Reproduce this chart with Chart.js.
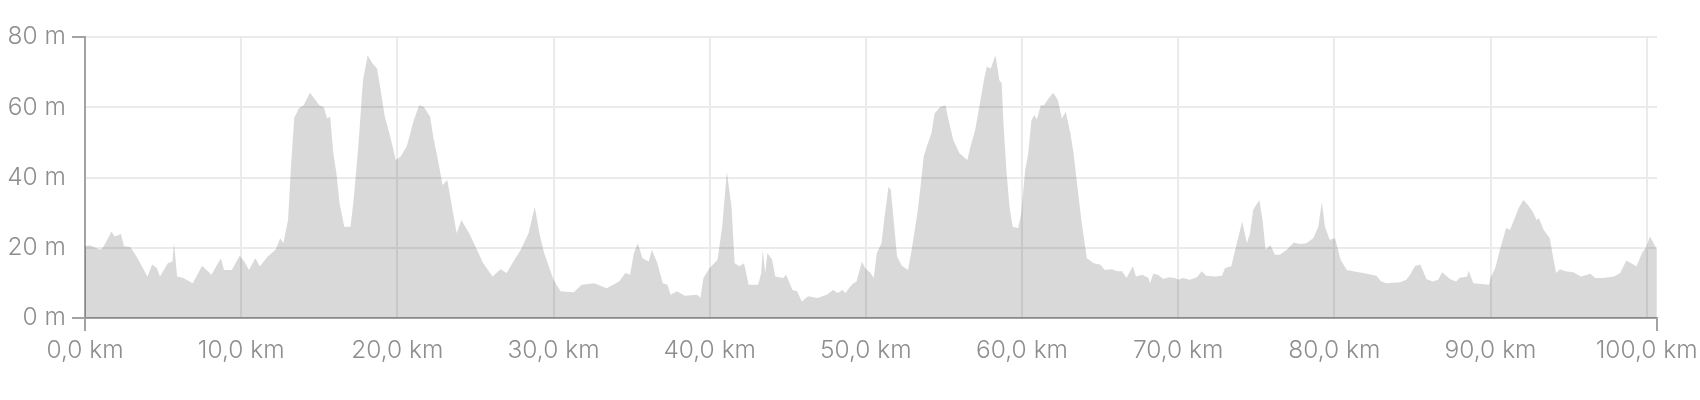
<!DOCTYPE html>
<html lang="en">
<head>
    <meta charset="UTF-8">
    <title>Elevation profile</title>
    <script src="https://cdn.jsdelivr.net/npm/chart.js"></script>
    <style>
        body { margin: 0; background: #fff; }
    </style>
</head>
<body>
    <canvas id="profileChart" width="1700" height="400"></canvas>
    <script>
        // distance along the route (km) and elevation (m)
        const distKm = [
            0, 0.3, 1.0, 1.2, 1.7, 1.9, 2.3, 2.5, 2.9, 3.3, 4.0, 4.3, 4.6, 4.8, 5.3, 5.6, 5.7, 5.9, 6.3, 6.9,
            7.5, 8.1, 8.4, 8.7, 8.9, 9.4, 9.9, 10.2, 10.5, 10.9, 11.2, 11.7, 12.2, 12.5, 12.7, 13.0, 13.2, 13.4, 13.7, 14.0,
            14.4, 14.6, 15.0, 15.3, 15.5, 15.7, 15.9, 16.1, 16.3, 16.6, 17.0, 17.2, 17.5, 17.8, 18.1, 18.4, 18.7, 18.9, 19.2, 19.55,
            19.9, 20.2, 20.6, 21.05, 21.4, 21.7, 22.1, 22.3, 22.6, 22.9, 23.2, 23.5, 23.8, 24.1, 24.6, 25.1, 25.5, 26.1, 26.6, 27.0,
            27.5, 27.9, 28.4, 28.8, 29.1, 29.4, 29.7, 30.0, 30.45, 31.3, 31.8, 32.6, 33.4, 34.2, 34.6, 34.9, 35.15, 35.4, 35.7, 36.1,
            36.3, 36.65, 37.0, 37.3, 37.5, 37.9, 38.4, 39.2, 39.4, 39.6, 40.0, 40.5, 40.8, 41.1, 41.4, 41.6, 41.9, 42.2, 42.5, 43.1,
            43.3, 43.4, 43.55, 43.7, 44.0, 44.2, 44.7, 44.9, 45.3, 45.6, 45.9, 46.3, 46.9, 47.5, 47.9, 48.2, 48.5, 48.7, 49.0, 49.2,
            49.4, 49.6, 49.75, 49.95, 50.3, 50.5, 50.7, 51.0, 51.2, 51.45, 51.6, 51.8, 52.0, 52.3, 52.7, 52.9, 53.3, 53.5, 53.7, 53.9,
            54.2, 54.4, 54.75, 55.1, 55.3, 55.6, 56.0, 56.5, 56.7, 57.0, 57.3, 57.6, 57.75, 58.0, 58.3, 58.55, 58.7, 58.8, 59.0, 59.2,
            59.4, 59.75, 59.95, 60.2, 60.4, 60.6, 60.8, 60.95, 61.2, 61.4, 61.7, 62.0, 62.3, 62.55, 62.8, 63.1, 63.3, 63.55, 63.8, 64.15,
            64.6, 65.0, 65.3, 65.75, 66.1, 66.4, 66.7, 66.8, 67.1, 67.3, 67.7, 68.1, 68.2, 68.4, 68.7, 69.05, 69.4, 69.8, 70.0, 70.3,
            70.75, 71.2, 71.5, 71.8, 72.35, 72.8, 73.0, 73.4, 73.6, 74.1, 74.4, 74.6, 74.8, 75.2, 75.4, 75.6, 75.9, 76.2, 76.5, 76.95,
            77.4, 77.8, 78.2, 78.65, 78.97, 79.2, 79.4, 79.7, 80.05, 80.4, 80.8, 81.2, 81.85, 82.7, 83.0, 83.35, 84.2, 84.6, 84.85, 85.15,
            85.5, 85.9, 86.3, 86.65, 86.9, 87.4, 87.8, 88.0, 88.5, 88.6, 88.9, 89.4, 89.9, 90.0, 90.3, 90.6, 91.0, 91.25, 91.5, 91.8,
            92.1, 92.4, 92.7, 92.95, 93.1, 93.4, 93.8, 94.0, 94.2, 94.45, 94.8, 95.3, 95.8, 96.4, 96.7, 97.2, 97.9, 98.3, 98.7, 99.0,
            99.35, 99.7, 100.0, 100.2, 100.45, 100.65
        ];
        const elevM = [
            20.4, 20.7, 19.4, 20.4, 24.6, 23.2, 23.9, 20.4, 20.2, 17.5, 11.8, 15.2, 14.2, 11.8, 15.6, 16.1, 21.5, 11.8, 11.4, 9.9,
            14.9, 12.3, 14.7, 17.0, 13.7, 13.7, 17.7, 16.1, 13.7, 17.0, 14.7, 17.5, 19.4, 22.7, 21.3, 27.9, 44, 57, 59.7, 60.6,
            64.1, 63, 60.6, 60, 56.8, 57.3, 46.9, 41.2, 32.7, 26, 26, 33.6, 48.8, 67.7, 74.8, 72.5, 71, 65.8, 57.3, 51.6,
            45, 45.9, 48.8, 56.3, 60.6, 60.1, 57.3, 51.6, 45, 37.9, 39.3, 31.7, 24.1, 27.9, 24.1, 19.4, 15.6, 11.8, 13.9, 12.8,
            16.6, 19.4, 24.1, 31.7, 24.1, 18.5, 14.7, 10.9, 7.6, 7.3, 9.5, 9.9, 8.5, 10.4, 12.8, 12.3, 18.5, 21.3, 17, 16.1,
            19.4, 15.6, 9.9, 9.5, 6.6, 7.6, 6.3, 6.6, 5.7, 11.4, 14.2, 16.6, 26, 41.7, 31.7, 15.6, 14.7, 15.6, 9.5, 9.5,
            12.8, 19.4, 12.8, 18.5, 16.6, 11.8, 11.4, 12.3, 8.0, 7.6, 4.7, 6.2, 5.7, 6.6, 8.0, 7.1, 8.0, 7.1, 9.0, 9.9,
            10.4, 13.7, 16.1, 14.2, 12.8, 11.4, 18.5, 21.3, 28.9, 37.4, 36.5, 27, 17.5, 14.9, 13.7, 18.5, 29.8, 37.4, 45.9, 48.8,
            52.6, 58.2, 60.1, 60.6, 56.3, 50.7, 46.9, 45, 48.8, 53.5, 61.1, 68.7, 71.5, 71, 74.8, 67.7, 66.8, 56.3, 42.1, 31.7,
            26, 25.6, 29.8, 42.1, 46.9, 56.3, 57.8, 56.5, 60.6, 60.6, 62.5, 64.1, 62, 56.8, 58.7, 52.6, 46.9, 37.4, 27.9, 17,
            15.6, 15.2, 13.7, 13.9, 13.3, 13.3, 11.4, 12.3, 14.7, 11.8, 12.3, 11.4, 9.9, 12.6, 12.3, 11.1, 11.6, 11.4, 10.9, 11.4,
            10.9, 11.6, 13.3, 12, 11.8, 12, 14.2, 14.7, 18.5, 27.5, 21.3, 24.1, 30.8, 33.6, 27.9, 19.4, 20.8, 18, 18, 19.4,
            21.5, 21.1, 21.3, 22.7, 26, 33.1, 26, 22.3, 22.7, 16.6, 13.7, 13.3, 12.8, 12, 10.4, 9.9, 10.2, 10.9, 12.3, 14.7,
            15.2, 11.1, 10.4, 10.9, 13, 11.1, 10.4, 11.4, 11.8, 13.5, 9.9, 9.7, 9.5, 11.4, 14.2, 19.4, 25.6, 25.1, 27.9, 31.3,
            33.6, 32.2, 30.3, 27.9, 28.4, 25.1, 22.7, 17.5, 12.8, 13.9, 13.3, 13, 11.8, 12.6, 11.4, 11.4, 11.8, 12.8, 16.4, 15.6,
            14.7, 18.5, 20.4, 23.2, 21.3, 19.6
        ];
        const routeEndKm = 100.66;
        const xTickKm = [0, 10, 20, 30, 40, 50, 60, 70, 80, 90, 100];
        const yTickM = [0, 20, 40, 60, 80];

        const labelColor = '#8e8e8e';
        const axisColor = '#a3a3a3';
        const gridColor = '#ebebeb';
        const labelFont = { family: 'Inter', size: 24.5, weight: 300 };

        const points = distKm.map((d, i) => ({ x: d, y: elevM[i] }));

        const ctx = document.getElementById('profileChart').getContext('2d');
        new Chart(ctx, {
            type: 'line',
            data: {
                datasets: [{
                    data: points,
                    fill: 'origin',
                    backgroundColor: 'rgba(0, 0, 0, 0.15)',
                    borderWidth: 0,
                    pointRadius: 0,
                    tension: 0
                }]
            },
            options: {
                responsive: false,
                animation: false,
                plugins: {
                    legend: { display: false },
                    tooltip: { enabled: false }
                },
                layout: { padding: { top: 37, right: 43, left: 0, bottom: 0 } },
                scales: {
                    x: {
                        type: 'linear',
                        min: 0,
                        max: routeEndKm,
                        afterBuildTicks: scale => {
                            scale.ticks = xTickKm.concat([routeEndKm]).map(v => ({ value: v }));
                        },
                        afterFit: scale => { scale.height = 82; },
                        ticks: {
                            autoSkip: false,
                            maxRotation: 0,
                            padding: 5,
                            color: labelColor,
                            font: labelFont,
                            callback: v => v === routeEndKm ? '' : v.toFixed(1).replace('.', ',') + ' km'
                        },
                        grid: {
                            lineWidth: 2,
                            color: c => (c.tick && (c.tick.value === 0 || c.tick.value === routeEndKm)) ? 'rgba(0,0,0,0)' : gridColor,
                            tickColor: c => (c.tick && (c.tick.value === 0 || c.tick.value === routeEndKm)) ? axisColor : 'rgba(0,0,0,0)',
                            tickLength: 13,
                            tickWidth: 2
                        },
                        border: { color: axisColor, width: 2 }
                    },
                    y: {
                        min: 0,
                        max: 80,
                        afterBuildTicks: scale => {
                            scale.ticks = yTickM.map(v => ({ value: v }));
                        },
                        afterFit: scale => { scale.width = 85; },
                        ticks: {
                            padding: 6,
                            color: labelColor,
                            font: labelFont,
                            callback: v => v + ' m'
                        },
                        grid: {
                            lineWidth: 2,
                            color: gridColor,
                            tickColor: c => (c.tick && (c.tick.value === 0 || c.tick.value === 80)) ? axisColor : 'rgba(0,0,0,0)',
                            tickLength: 13,
                            tickWidth: 2
                        },
                        border: { color: axisColor, width: 2 }
                    }
                }
            }
        });
    </script>
</body>
</html>
